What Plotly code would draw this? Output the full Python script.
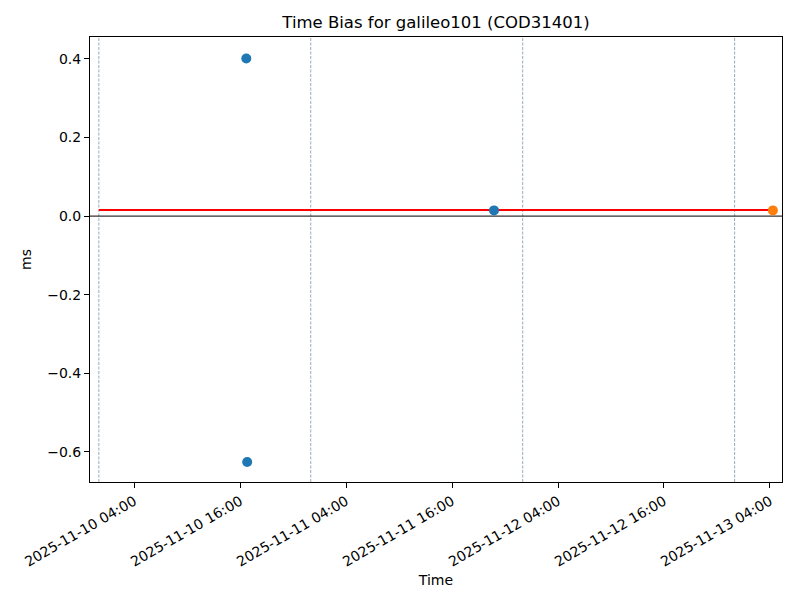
import plotly.graph_objects as go

title = "Time Bias for galileo101 (COD31401)"
blue_times = ["2025-11-10 16:42", "2025-11-10 16:48", "2025-11-11 20:45"]
blue_values = [0.4013, -0.626, 0.0145]
orange_times = ["2025-11-13 04:20"]
orange_values = [0.0145]
ref_times = ["2025-11-10 00:00", "2025-11-13 04:20"]
ref_values = [0.0153, 0.0153]
day_lines = ["2025-11-10", "2025-11-11", "2025-11-12", "2025-11-13"]
x_ticks = ["2025-11-10 04:00", "2025-11-10 16:00", "2025-11-11 04:00", "2025-11-11 16:00",
           "2025-11-12 04:00", "2025-11-12 16:00", "2025-11-13 04:00"]
y_ticks = [-0.6, -0.4, -0.2, 0.0, 0.2, 0.4]
y_tick_text = ["\u22120.6", "\u22120.4", "\u22120.2", "0.0", "0.2", "0.4"]
x_range = ["2025-11-09 23:00", "2025-11-13 05:22"]
y_range = [-0.677, 0.456]

fig = go.Figure()
fig.add_trace(go.Scatter(x=ref_times, y=ref_values, mode="lines",
                         line=dict(color="red", width=2), showlegend=False))
fig.add_trace(go.Scatter(x=blue_times, y=blue_values, mode="markers",
                         marker=dict(color="#1f77b4", size=10), showlegend=False))
fig.add_trace(go.Scatter(x=orange_times, y=orange_values, mode="markers",
                         marker=dict(color="#ff7f0e", size=10), showlegend=False))

for d in day_lines:
    fig.add_shape(type="line", xref="x", yref="paper", x0=d, x1=d, y0=0, y1=1,
                  line=dict(color="rgba(90,120,150,0.9)", width=0.7, dash="3px,1.5px"), layer="below")
fig.add_shape(type="line", xref="paper", yref="y", x0=0, x1=1, y0=0, y1=0,
              line=dict(color="black", width=1), layer="below")

font = "DejaVu Sans"
fig.update_layout(
    width=800, height=600,
    margin=dict(l=82, r=26, t=29, b=126, autoexpand=False),
    plot_bgcolor="white", paper_bgcolor="white",
    font=dict(family=font, size=14, color="black"),
    title=dict(text=title, xref="paper", x=0.5, xanchor="center", y=1 - 14 / 600, yanchor="middle",
               font=dict(family=font, size=16.5, color="black")),
    showlegend=False,
)
fig.update_xaxes(
    type="date", range=x_range, tickvals=x_ticks, tickformat="%Y-%m-%d %H:%M",
    tickangle=-30, ticks="outside", ticklen=5, tickwidth=1, tickcolor="black",
    showline=True, linecolor="black", linewidth=1, mirror=True, showgrid=False, zeroline=False,
    title=dict(text="Time", font=dict(family=font, size=14), standoff=6),
    tickfont=dict(family=font, size=14),
)
fig.update_yaxes(
    range=y_range, tickvals=y_ticks, ticktext=y_tick_text,
    ticks="outside", ticklen=5, tickwidth=1, tickcolor="black",
    showline=True, linecolor="black", linewidth=1, mirror=True, showgrid=False, zeroline=False,
    title=dict(text="ms", font=dict(family=font, size=14), standoff=12),
    tickfont=dict(family=font, size=14),
)

fig.write_html("out.html")
